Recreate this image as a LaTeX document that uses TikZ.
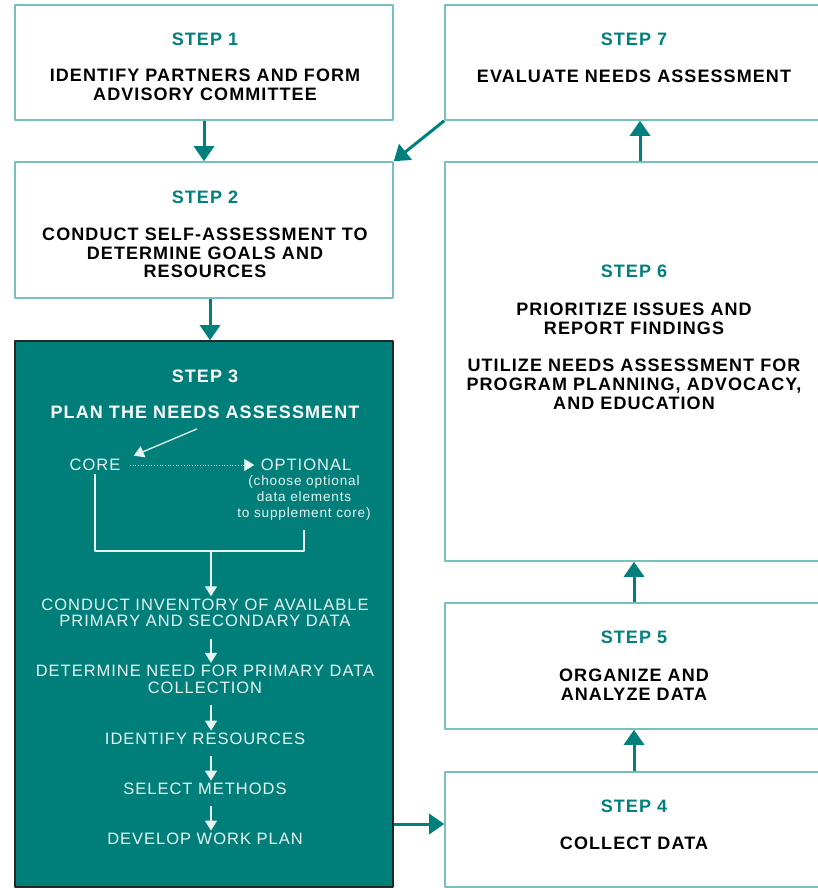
\documentclass[tikz,border=0pt]{standalone}
\usepackage{fontspec}
\setmainfont{Liberation Sans}
\newfontfamily\trackedfont[LetterSpace=6]{Liberation Sans}
\usetikzlibrary{arrows.meta}

\definecolor{stepteal}{RGB}{0,128,125}
\definecolor{planteal}{RGB}{0,127,122}
\definecolor{boxline}{RGB}{120,192,187}
\definecolor{plantext}{RGB}{232,244,242}

\newcommand\headfont{\trackedfont\bfseries\fontsize{18}{18.8}\selectfont}
\newcommand\planfont{\trackedfont\fontsize{16.5}{16.6}\selectfont}
\newcommand\notefont{\trackedfont\fontsize{13.6}{15.6}\selectfont}

\begin{document}
\begin{tikzpicture}[x=1pt, y=-1pt, line join=round,
    box/.style={draw=boxline, line width=1.6pt, fill=white, inner sep=0pt, minimum width=378pt},
    planbox/.style={draw=black!85, line width=1.6pt, fill=planteal, inner sep=0pt, minimum width=378pt},
    steplabel/.style={text=stepteal, font=\headfont},
    steptext/.style={font=\headfont, align=center},
    planhead/.style={text=white, font=\headfont, align=center},
    plantext/.style={text=plantext, font=\planfont, align=center},
    flow/.style={-{Triangle[width=20pt,length=15pt]}, draw=stepteal, line width=3pt},
    subflow/.style={-{Triangle[width=12pt,length=10pt]}, draw=plantext, line width=1.3pt},
    planline/.style={draw=plantext, line width=1.1pt},
    nextstep/.style={subflow, shorten <=8pt, shorten >=-1pt}]
\useasboundingbox (0,0) rectangle (817,888);

% left column
\node[box, minimum height=115pt] (s1) at (204,62.5) {};
\node[box, minimum height=136pt] (s2) at (204,230) {};
\node[planbox, minimum height=546pt] (s3) at (204,614) {};
% right column
\node[box, minimum height=115pt] (s7) at (634,62.5) {};
\node[box, minimum height=399pt] (s6) at (634,361.5) {};
\node[box, minimum height=126pt] (s5) at (634,666) {};
\node[box, minimum height=115pt] (s4) at (634,829.5) {};

% step 1 and 2
\node[steplabel] (lab1) at (205,39) {STEP 1};
\node[steptext] (txt1) at (205,85) {IDENTIFY PARTNERS AND FORM\\ADVISORY COMMITTEE};
\node[steplabel] (lab2) at (205,197) {STEP 2};
\node[steptext] (txt2) at (205,253) {CONDUCT SELF-ASSESSMENT TO\\DETERMINE GOALS AND\\RESOURCES};

% step 3
\node[planhead] (lab3) at (205,376) {STEP 3};
\node[planhead] (txt3) at (205,412) {PLAN THE NEEDS ASSESSMENT};
\node[plantext] (core) at (95,465) {CORE};
\node[plantext] (opt) at (306,465) {OPTIONAL};
\node[plantext, font=\notefont] (note) at (304,498) {(choose optional\\data elements\\to supplement core)};
\node[plantext] (inv) at (205,613) {CONDUCT INVENTORY OF AVAILABLE\\PRIMARY AND SECONDARY DATA};
\node[plantext] (need) at (205,679.5) {DETERMINE NEED FOR PRIMARY DATA\\COLLECTION};
\node[plantext] (res) at (205,739) {IDENTIFY RESOURCES};
\node[plantext] (sel) at (205,789) {SELECT METHODS};
\node[plantext] (dev) at (205,839) {DEVELOP WORK PLAN};
\coordinate (merge) at (211,551);

\draw[subflow] ([xshift=-8pt,yshift=-7pt]txt3.south) -- ([xshift=10pt]core.north east);
\draw[subflow, line width=.7pt, dotted, shorten <=6pt, shorten >=3pt] (core) -- (opt);
\draw[planline] (core.south) |- (merge) -| ([yshift=-7pt]note.south);
\draw[subflow, shorten >=-1pt] (merge) -- (merge |- inv.north);
\draw[nextstep] ([xshift=6pt]inv.south) -- ([xshift=6pt]need.north);
\draw[nextstep] ([xshift=6pt]need.south) -- ([xshift=6pt]res.north);
\draw[nextstep] ([xshift=6pt]res.south) -- ([xshift=6pt]sel.north);
\draw[nextstep] ([xshift=6pt]sel.south) -- ([xshift=6pt]dev.north);

% steps 4 to 7
\node[steplabel] (lab4) at (634,806) {STEP 4};
\node[steptext] (txt4) at (634,843) {COLLECT DATA};
\node[steplabel] (lab5) at (634,637) {STEP 5};
\node[steptext] (txt5) at (634,684.5) {ORGANIZE AND\\ANALYZE DATA};
\node[steplabel] (lab6) at (634,271) {STEP 6};
\node[steptext] (txt6) at (634,356) {PRIORITIZE ISSUES AND\\REPORT FINDINGS\\[18.8pt]UTILIZE NEEDS ASSESSMENT FOR\\PROGRAM PLANNING, ADVOCACY,\\AND EDUCATION};
\node[steplabel] (lab7) at (634,39) {STEP 7};
\node[steptext] (txt7) at (634,76) {EVALUATE NEEDS ASSESSMENT};

% connectors
\draw[flow] (s1.south) -- (s2.north);
\draw[flow] ([xshift=6pt]s2.south) -- ([xshift=6pt]s3.north);
\draw[flow] ([yshift=5.5pt]s4.west -| s3.east) -- ([yshift=5.5pt]s4.west);
\draw[flow] (s4.north) -- (s5.south);
\draw[flow] (s5.north) -- (s6.south);
\draw[flow] ([xshift=6pt]s6.north) -- ([xshift=6pt]s7.south);
\draw[flow] (s7.south west) -- (s2.north east);
\end{tikzpicture}
\end{document}
